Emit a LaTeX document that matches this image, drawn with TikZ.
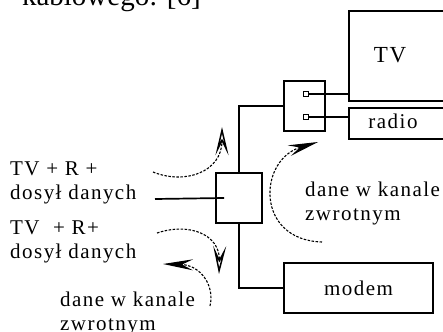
\documentclass[tikz,border=0pt]{standalone}
\usepackage{fontspec}
\setmainfont{Liberation Serif}
\newfontfamily\diagfont{Liberation Serif}[LetterSpace=7.0]
\usetikzlibrary{arrows.meta, positioning, calc}
\tikzset{
    unit/.style={rectangle, draw=black, line width=1.7pt, inner sep=0pt, font=\diagfont\fontsize{21}{24}\selectfont},
    term/.style={rectangle, draw=black, line width=1pt, minimum size=5pt, inner sep=0pt},
    lbl/.style={inner sep=0pt, align=left, font=\diagfont\fontsize{21}{24}\selectfont},
    wire/.style={line width=1.7pt},
    backflow/.style={line width=1.1pt, dash pattern=on 2.5pt off 1.5pt},
    openhead/.style={-{Stealth[open, length=28pt, width=13pt, inset=13pt, line width=1.5pt]}},
    fullhead/.style={-{Stealth[length=30pt, width=11pt, inset=11pt]}}
}
\begin{document}
\begin{tikzpicture}[x=1pt, y=-1pt]
        \useasboundingbox (0,0) rectangle (443,331);
        \clip (0,0) rectangle (443,331);

        % Caption line cut off above
        \node[anchor=base east, inner sep=0pt, font=\fontsize{29}{32}\selectfont] (caption) at (201,6) {kablowego: [6]};

        % Receivers
        \node (tv) [unit, minimum width=110pt, minimum height=90pt, anchor=north west] at (348,10) {};
        \node (tvtext) [lbl, font=\diagfont\fontsize{23}{26}\selectfont] at (390,55) {TV};
        \node (radio) [unit, minimum width=110pt, minimum height=31pt, anchor=north west] at (348,107) {};
        \node (radiotext) [lbl] at (393,121) {radio};
        \node (modem) [unit, minimum width=149pt, minimum height=50pt] at (358.5,288) {modem};

        % Splitter and outlet
        \node (split) [unit, minimum width=41pt, minimum height=50pt] at (304.5,106) {};
        \node (t1) [term] at (306,94) {};
        \node (t2) [term] at (306,117) {};
        \node (hub) [unit, minimum width=46pt, minimum height=50pt] at (239,198) {};

        % Wiring
        \coordinate (feed) at (155,199);
        \draw[wire] (feed) -- ($(hub.west)+(9,0)$);
        \draw[wire] (split.west) -| (hub.north);
        \draw[wire] (hub.south) |- (modem.west);
        \draw[wire] (t1.east) -- (t1.east -| tv.west);
        \draw[wire] (t2.east) -- (t2.east -| radio.west);

        % Texts
        \node (down1) [lbl, anchor=north west] at (10,162) {TV + R +\\dosył danych};
        \node (down2) [lbl, anchor=north west] at (10,221) {TV\ \ + R+\\dosył danych};
        \node (back1) [lbl, anchor=north west] at (305,182) {dane w kanale\\zwrotnym};
        \node (back2) [lbl, anchor=north west] at (60,292) {dane w kanale\\zwrotnym};

        % Signal flow
        \coordinate (up1) at (153,172);
        \coordinate (up2) at (222,127);
        \coordinate (dn1) at (157,233);
        \coordinate (dn2) at (219,274);
        \coordinate (rt1) at (322,242);
        \coordinate (rt2) at (318,142);
        \coordinate (lt1) at (210,306);
        \coordinate (lt2) at (163,264);
        \draw[backflow, openhead] (up1) .. controls (185,185) and (222,172) .. (up2);
        \draw[backflow, openhead] (dn1) .. controls (190,222) and (220,235) .. (dn2);
        \draw[backflow, fullhead] (rt1) .. controls (255,240) and (258,160) .. (rt2);
        \draw[backflow, fullhead] (lt1) .. controls (215,285) and (200,265) .. (lt2);
    \end{tikzpicture}
\end{document}
